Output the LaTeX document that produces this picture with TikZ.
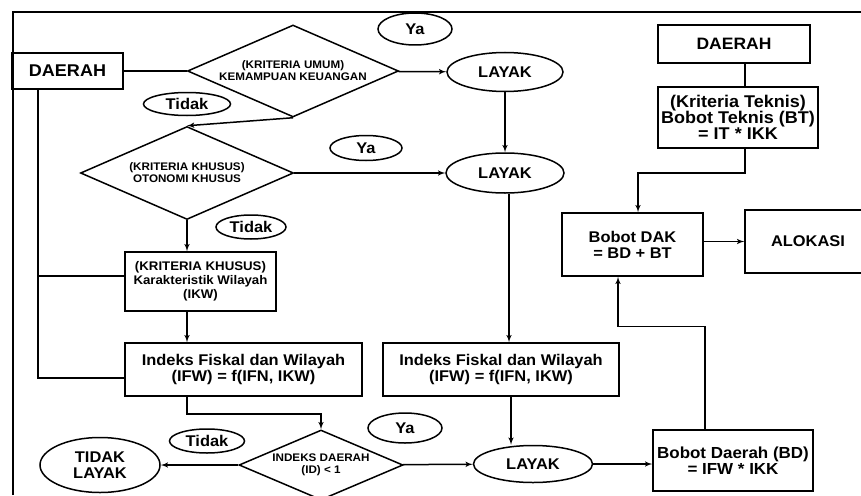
\documentclass[tikz,border=0pt]{standalone}
\usepackage{fontspec}
\setmainfont[FakeStretch=1.06]{Liberation Sans}
\usetikzlibrary{arrows,shapes.geometric,positioning}

\tikzset{
  garis/.style={line width=1.5pt},
  panah/.style={garis,-latex'},
  kotak/.style={draw,line width=1.5pt,inner sep=0pt,align=center,
    font=\bfseries\fontsize{15.5}{16}\selectfont},
  wajik/.style={draw,diamond,aspect=2.3,line width=1.5pt,inner sep=0pt,align=center,
    font=\bfseries\fontsize{11}{12}\selectfont},
  bulat/.style={draw,ellipse,line width=1.5pt,inner sep=0pt,align=center,
    font=\bfseries\fontsize{15.5}{15.5}\selectfont},
}

\begin{document}
\begin{tikzpicture}[x=1pt,y=-1pt]
        \useasboundingbox (0,0) rectangle (861,495);
        % outer frame
        \draw[garis] (13,495) -- (13,12) -- (861,12);

        % left column: criteria
        \node[kotak,minimum width=111pt,minimum height=36pt,
          font=\bfseries\fontsize{17}{17}\selectfont] (daerah) at (67.5,71) {DAERAH};
        \node[wajik,minimum width=211pt,minimum height=92pt] (umum) at (293,71)
          {(KRITERIA UMUM)\\KEMAMPUAN KEUANGAN};
        \node[wajik,minimum width=213pt,minimum height=93pt] (otsus) at (187,173)
          {(KRITERIA KHUSUS)\\OTONOMI KHUSUS};
        \node[kotak,minimum width=151pt,minimum height=59pt,
          font=\bfseries\fontsize{12.5}{14}\selectfont] (ikw) at (200.5,281.5)
          {(KRITERIA KHUSUS)\\Karakteristik Wilayah\\(IKW)};
        \node[kotak,minimum width=237pt,minimum height=53pt] (ifwA) at (243.5,369.5)
          {Indeks Fiskal dan Wilayah\\(IFW) = f(IFN, IKW)};
        \node[wajik,minimum width=164pt,minimum height=70pt] (indeks) at (321,465)
          {INDEKS DAERAH\\(ID) < 1};
        \node[bulat,minimum width=120pt,minimum height=55pt] (tdklayak) at (100,465)
          {TIDAK\\LAYAK};

        % answer labels
        \node[bulat,minimum width=74pt,minimum height=32pt] (yaA) at (415,29) {Ya};
        \node[bulat,minimum width=87pt,minimum height=23pt] (tidakA) at (187,104) {Tidak};
        \node[bulat,minimum width=72pt,minimum height=25pt] (yaB) at (366,148) {Ya};
        \node[bulat,minimum width=70pt,minimum height=24pt] (tidakB) at (251,227) {Tidak};
        \node[bulat,minimum width=75pt,minimum height=24pt] (tidakC) at (207,441) {Tidak};
        \node[bulat,minimum width=74pt,minimum height=30pt] (yaC) at (405,428) {Ya};

        % middle column
        \node[bulat,minimum width=116pt,minimum height=39pt] (layakA) at (505,72) {LAYAK};
        \node[bulat,minimum width=118pt,minimum height=40pt] (layakB) at (505,173) {LAYAK};
        \node[kotak,minimum width=236pt,minimum height=53pt] (ifwB) at (501,369.5)
          {Indeks Fiskal dan Wilayah\\(IFW) = f(IFN, IKW)};
        \node[bulat,minimum width=119pt,minimum height=37pt] (layakC) at (533,464) {LAYAK};

        % right column: weights
        \node[kotak,minimum width=152pt,minimum height=38pt,
          font=\bfseries\fontsize{16.5}{16.5}\selectfont] (daerahT) at (734,44) {DAERAH};
        \node[kotak,minimum width=160pt,minimum height=61pt,
          font=\bfseries\fontsize{17}{16}\selectfont] (teknis) at (738,117.5)
          {(Kriteria Teknis)\\Bobot Teknis (BT)\\= IT * IKK};
        \node[kotak,minimum width=141pt,minimum height=63pt] (dak) at (632.5,244.5)
          {Bobot DAK\\= BD + BT};
        \node[kotak,minimum width=126pt,minimum height=63pt] (alokasi) at (808,241.5) {ALOKASI};
        \node[kotak,minimum width=160pt,minimum height=61pt,
          font=\bfseries\fontsize{16}{16.5}\selectfont] (bd) at (733,460.5)
          {Bobot Daerah (BD)\\= IFW * IKK};

        % connectors
        \draw[garis] (daerah) -- (umum);
        \draw[panah] (umum) -- (layakA);
        \draw[panah] (umum.south) -- (otsus.north);
        \draw[panah] (otsus) -- (layakB);
        \draw[panah] (layakA) -- (layakB);
        \draw[panah] (otsus.south) -- (otsus.south |- ikw.north);
        \draw[panah] (otsus.south |- ikw.south) -- (otsus.south |- ifwA.north);
        \draw[garis] ([xshift=-29.5pt]daerah.south) |- ([yshift=-8.5pt]ifwA.west);
        \draw[garis] ([xshift=-29.5pt]daerah.south |- ikw.west) ++(0,-5.5) -- ([yshift=5.5pt]ikw.west);
        \draw[panah] (otsus.south |- ifwA.south) -- ++(0,17) -| (indeks.north);
        \draw[panah] (indeks) -- (tdklayak);
        \draw[panah] (indeks) -- (layakC);
        \draw[panah] ([xshift=4pt]layakB.south) -- ([xshift=4pt]layakB.south |- ifwB.north);
        \draw[panah] ([xshift=6pt]layakB.south |- ifwB.south) -- ([xshift=6pt]layakB.south |- layakC.north);
        \draw[panah] (layakC.east) -- (layakC.east -| bd.west);
        \draw[panah] ([xshift=-28pt]bd.north) -- ++(0,-103) -| ([xshift=-14.5pt]dak.south);
        \draw[garis] ([xshift=11pt]daerahT.south) -- ([xshift=11pt]daerahT.south |- teknis.north);
        \draw[panah] ([xshift=7pt]teknis.south) -- ++(0,24) -| ([xshift=5.5pt]dak.north);
        \draw[panah] (dak.east |- alokasi.west) -- (alokasi.west);
\end{tikzpicture}
\end{document}
